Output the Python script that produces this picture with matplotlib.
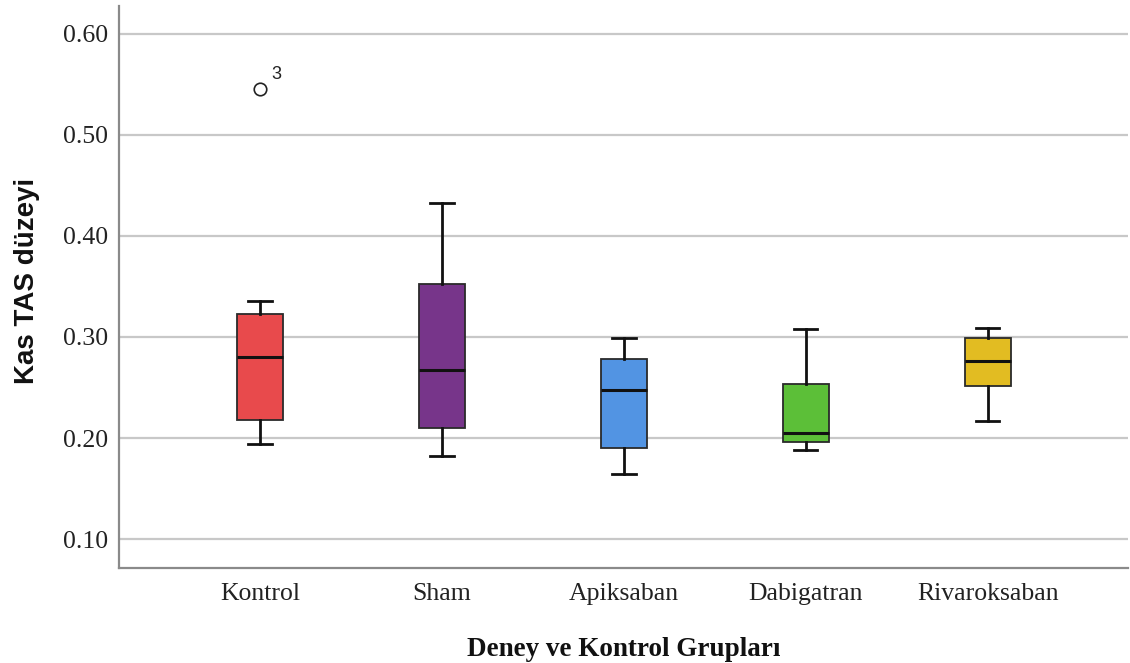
import matplotlib
matplotlib.use("Agg")
import matplotlib.pyplot as plt

# Group summaries (five-number summary + outliers) for muscle TAS level
groups = ["Kontrol", "Sham", "Apiksaban", "Dabigatran", "Rivaroksaban"]
whislo = [0.194, 0.182, 0.164, 0.188, 0.217]
q1 = [0.218, 0.210, 0.190, 0.196, 0.251]
med = [0.280, 0.267, 0.248, 0.205, 0.276]
q3 = [0.323, 0.352, 0.278, 0.253, 0.299]
whishi = [0.336, 0.433, 0.299, 0.308, 0.309]
outliers = [[0.546], [], [], [], []]
outlier_ids = [["3"], [], [], [], []]
colors = ["#E84A4C", "#77358A", "#5294E3", "#5CBF38", "#E2BC22"]

yticks = [0.10, 0.20, 0.30, 0.40, 0.50, 0.60]

fig = plt.figure(figsize=(11.3, 6.63), dpi=100)
ax = fig.add_axes([119 / 1130, 1 - 568 / 663, 1009 / 1130, 562 / 663])

stats = []
for i, g in enumerate(groups):
    stats.append(dict(label=g, whislo=whislo[i], q1=q1[i], med=med[i],
                      q3=q3[i], whishi=whishi[i], fliers=outliers[i]))

pos = list(range(len(groups)))
bp = ax.bxp(stats, positions=pos, widths=0.253, capwidths=0.127,
            patch_artist=True,
            boxprops=dict(edgecolor="#2a2a2a", linewidth=1.3),
            medianprops=dict(color="#111111", linewidth=2.2),
            whiskerprops=dict(color="#111111", linewidth=2.0),
            capprops=dict(color="#111111", linewidth=2.0),
            flierprops=dict(marker="o", markerfacecolor="white",
                            markeredgecolor="#222222", markersize=9,
                            markeredgewidth=1.2))
for box, c in zip(bp["boxes"], colors):
    box.set_facecolor(c)
    box.set_zorder(3)
for key in ("medians", "whiskers", "caps", "fliers"):
    for ln in bp[key]:
        ln.set_zorder(4)

# case number next to each outlier
for i, (vals, ids) in enumerate(zip(outliers, outlier_ids)):
    for v, t in zip(vals, ids):
        ax.annotate(t, (pos[i], v), xytext=(8, 7), textcoords="offset points",
                    fontsize=13, family="Liberation Sans", color="#222222")

ax.set_xlim(-0.775, 4.77)
ax.set_ylim(0.0713, 0.6277)
ax.set_yticks(yticks)
ax.set_yticklabels([f"{t:.2f}" for t in yticks])
ax.set_xticks(pos)
ax.set_xticklabels(groups)
ax.tick_params(length=0, labelsize=18.5)
ax.tick_params(axis="x", pad=11)
ax.tick_params(axis="y", pad=8)
for lab in ax.get_xticklabels() + ax.get_yticklabels():
    lab.set_family("Liberation Serif")
    lab.set_color("#222222")

ax.yaxis.grid(True, color="#c8c8c8", linewidth=1.6)
ax.set_axisbelow(True)
for s in ("top", "right"):
    ax.spines[s].set_visible(False)
for s in ("left", "bottom"):
    ax.spines[s].set_color("#8a8a8a")
    ax.spines[s].set_linewidth(1.6)

ax.set_xlabel("Deney ve Kontrol Grupları", family="Liberation Serif",
              fontweight="bold", fontsize=19.5, labelpad=23, color="#111111")
ax.set_ylabel("Kas TAS düzeyi", family="Liberation Sans",
              fontweight="bold", fontsize=20, color="#111111")
ax.yaxis.set_label_coords(-0.078, 0.51)

fig.savefig("out.png", dpi=100)
